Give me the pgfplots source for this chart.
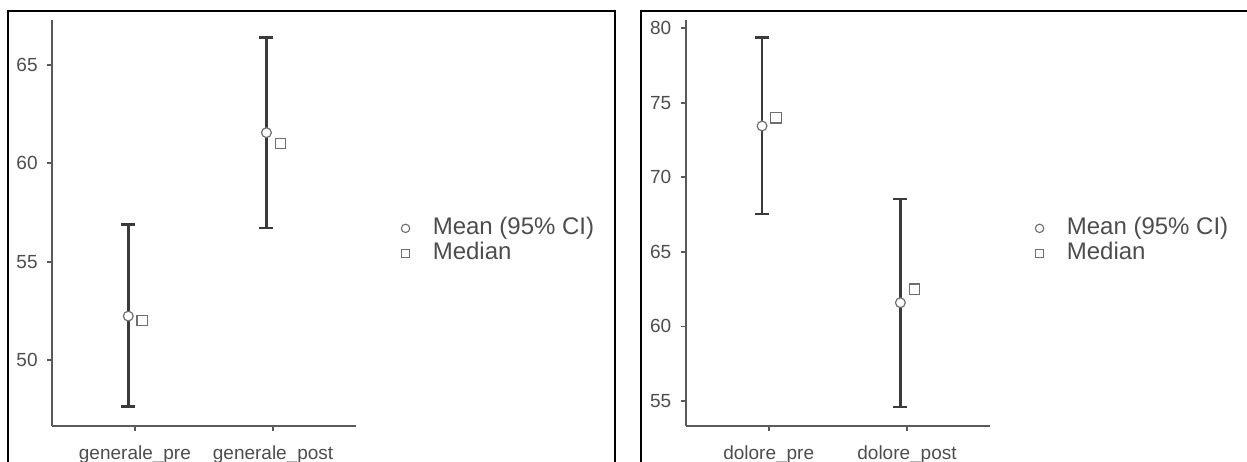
\documentclass[border=0pt]{standalone}
\usepackage{fontspec}
\setmainfont{Liberation Sans}
\usepackage{pgfplots}
\pgfplotsset{compat=1.18}

\definecolor{axisgray}{HTML}{5A5A5A}
\definecolor{txtgray}{HTML}{4D4D4D}
\definecolor{bargray}{HTML}{3A3A3A}
\definecolor{markgray}{HTML}{6E6E6E}

\pgfplotsset{
  ciaxis/.style={
    scale only axis,
    width=152pt, height=203pt,
    axis lines=left,
    axis line style={-, axisgray, line width=0.9pt},
    tick style={axisgray, line width=0.9pt},
    tick align=outside,
    major tick length=2.5pt,
    xmin=0.4, xmax=2.6,
    xtick={1,2},
    /pgf/number format/assume math mode=true,
    ticklabel style={text=txtgray, font=\fontsize{9.5}{10}\selectfont},
    yticklabel style={inner sep=0pt, anchor=east, xshift=-4.5pt},
    xticklabel style={inner sep=0pt, anchor=base, yshift=-14pt},
    legend style={at={(1.1217,0.456)}, anchor=west, draw=none, fill=none,
      inner sep=0pt, outer sep=0pt,
      font=\fontsize{12}{12}\selectfont, text=txtgray,
      row sep=0.5pt, column sep=0pt,
      nodes={inner sep=0pt, text height=9pt, text depth=3pt}},
    legend cell align=left,
    legend image code/.code={%
      \path (-6pt,0pt) (13.35pt,0pt);
      \draw[##1] plot coordinates {(0pt,0pt)};},
    clip=false,
  },
  cibar/.style={only marks, mark=none, forget plot,
    error bars/.cd, y dir=both, y explicit, error mark=|,
    error bar style={line width=1.25pt, bargray},
    error mark options={line width=1.25pt, bargray, mark size=3.5pt}},
  cimean/.style={only marks, mark=*, mark size=2.45pt, forget plot,
    mark options={fill=white, draw=markgray, line width=0.6pt}},
  cimedian/.style={only marks, mark=square*, mark size=2.6pt, forget plot,
    mark options={fill=white, draw=markgray, line width=0.6pt}},
}

\begin{document}
\begin{tikzpicture}[x=0.5pt,y=0.5pt]
\path[use as bounding box] (0,0) rectangle (1247,461);
\draw[line width=1pt] (8,-5) -- (8,450) -- (615,450) -- (615,-5);
\draw[line width=1pt] (641,-5) -- (641,450) -- (1252,450);

\begin{axis}[ciaxis, at={(26pt,17.5pt)}, anchor=south west,
  ymin=46.64, ymax=67.29, ytick={50,55,60,65},
  xticklabels={generale\_pre, generale\_post}]
\addplot[cibar] coordinates {
  (0.952,52.23) += (0,4.67) -= (0,4.61)
  (1.952,61.56) += (0,4.83) -= (0,4.84)
};
\addplot[cimean] coordinates {(0.952,52.23) (1.952,61.56)};
\addplot[cimedian] coordinates {(1.053,52.0) (2.053,61.0)};
\addlegendimage{only marks, mark=o, mark size=2.1pt, markgray, line width=0.55pt}
\addlegendimage{only marks, mark=square, mark size=2.0pt, markgray, line width=0.55pt}
\legend{Mean (95\% CI), Median}
\end{axis}

\begin{axis}[ciaxis, at={(342.85pt,17.5pt)}, anchor=south west,
  width=152.15pt,
  ymin=53.32, ymax=80.56, ytick={55,60,65,70,75,80},
  xticklabels={dolore\_pre, dolore\_post}]
\addplot[cibar] coordinates {
  (0.952,73.45) += (0,5.92) -= (0,5.92)
  (1.952,61.59) += (0,6.96) -= (0,6.99)
};
\addplot[cimean] coordinates {(0.952,73.45) (1.952,61.59)};
\addplot[cimedian] coordinates {(1.053,74.0) (2.053,62.5)};
\addlegendimage{only marks, mark=o, mark size=2.1pt, markgray, line width=0.55pt}
\addlegendimage{only marks, mark=square, mark size=2.0pt, markgray, line width=0.55pt}
\legend{Mean (95\% CI), Median}
\end{axis}
\end{tikzpicture}
\end{document}
